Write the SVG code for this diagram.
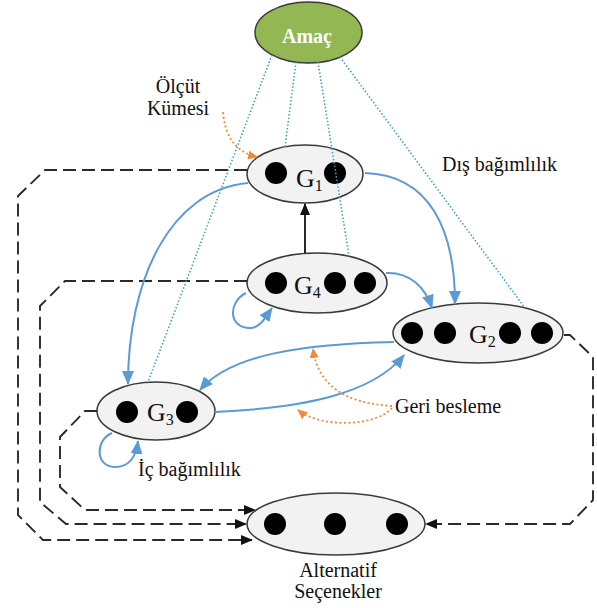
<svg xmlns="http://www.w3.org/2000/svg" width="597" height="608" viewBox="0 0 597 608">
  <style>
    .node { fill: #f2f2f2; stroke: #3a3a3a; stroke-width: 1.5; }
    .dot { fill: #000; }
    .lbl { font-family: 'Liberation Serif', serif; font-size: 20px; fill: #111; }
    .g { font-family: 'Liberation Serif', serif; font-size: 26px; fill: #111; }
    .sub { font-size: 16px; }
    .dash { fill: none; stroke: #2a2a2a; stroke-width: 1.9; stroke-dasharray: 13 6; }
    .blue { fill: none; stroke: #5b9bd5; stroke-width: 2; }
    .teal { fill: none; stroke: #3fa3c0; stroke-width: 1.6; stroke-dasharray: 1.5 2; }
    .orange { fill: none; stroke: #f08a3a; stroke-width: 1.8; stroke-dasharray: 2 2.5; }
  </style>
  <defs>
    <marker id="mBlack" markerUnits="userSpaceOnUse" markerWidth="12" markerHeight="10" refX="11" refY="5" orient="auto">
      <path d="M0,0 L12,5 L0,10 z" fill="#111"/>
    </marker>
    <marker id="mBlue" markerUnits="userSpaceOnUse" markerWidth="14" markerHeight="12" refX="13" refY="6" orient="auto">
      <path d="M0,0 L14,6 L0,12 z" fill="#5b9bd5"/>
    </marker>
    <marker id="mOrange" markerUnits="userSpaceOnUse" markerWidth="10" markerHeight="9" refX="9" refY="4.5" orient="auto">
      <path d="M0,0 L10,4.5 L0,9 z" fill="#f08a3a"/>
    </marker>
  </defs>

  <g id="amac">
    <ellipse cx="308.5" cy="32.5" rx="53.5" ry="30.5" fill="#93b853" stroke="#3a3a3a" stroke-width="1.5"/>
    <text x="307" y="43" text-anchor="middle" font-family="'Liberation Serif', serif" font-size="20" font-weight="bold" fill="#fff">Amaç</text>
  </g>

  <g id="G1">
    <ellipse class="node" cx="305" cy="174" rx="58" ry="29"/>
    <circle class="dot" cx="276" cy="173" r="11"/>
    <circle class="dot" cx="335" cy="173" r="11"/>
    <text class="g" x="296" y="187">G<tspan class="sub" dy="4">1</tspan></text>
  </g>

  <g id="G4">
    <ellipse class="node" cx="317" cy="283" rx="70" ry="30"/>
    <circle class="dot" cx="276" cy="283" r="11"/>
    <circle class="dot" cx="335" cy="283" r="11"/>
    <circle class="dot" cx="365" cy="283" r="11"/>
    <text class="g" x="294" y="294">G<tspan class="sub" dy="4">4</tspan></text>
  </g>

  <g id="G2">
    <ellipse class="node" cx="478" cy="333" rx="85" ry="30"/>
    <circle class="dot" cx="412" cy="333" r="11"/>
    <circle class="dot" cx="445" cy="333" r="11"/>
    <circle class="dot" cx="510" cy="333" r="11"/>
    <circle class="dot" cx="542" cy="333" r="11"/>
    <text class="g" x="469" y="343">G<tspan class="sub" dy="4">2</tspan></text>
  </g>

  <g id="G3">
    <ellipse class="node" cx="156" cy="411" rx="59" ry="29"/>
    <circle class="dot" cx="127" cy="412" r="11"/>
    <circle class="dot" cx="187" cy="412" r="11"/>
    <text class="g" x="147" y="421">G<tspan class="sub" dy="4">3</tspan></text>
  </g>

  <g id="alternatif">
    <ellipse class="node" cx="336" cy="524" rx="89" ry="31"/>
    <circle class="dot" cx="275" cy="524" r="11"/>
    <circle class="dot" cx="335" cy="524" r="11"/>
    <circle class="dot" cx="397" cy="524" r="11"/>
    <text class="lbl" x="338" y="577" text-anchor="middle">Alternatif</text>
    <text class="lbl" x="338" y="598" text-anchor="middle">Seçenekler</text>
  </g>

  <g id="labels">
    <text class="lbl" x="178" y="93" text-anchor="middle">Ölçüt</text>
    <text class="lbl" x="178" y="115" text-anchor="middle">Kümesi</text>
    <text class="lbl" x="442" y="171">Dış bağımlılık</text>
    <text class="lbl" x="395" y="413">Geri besleme</text>
    <text class="lbl" x="138" y="476">İç bağımlılık</text>
  </g>

  <g id="connectors">
    <path class="dash" d="M247,170 L45,170 L18,196 L18,515 L43,540 L252,540" marker-end="url(#mBlack)"/>
    <path class="dash" d="M247,281 L65,281 L40,306 L40,502 L66,524 L246,524" marker-end="url(#mBlack)"/>
    <path class="dash" d="M97,411 L85,411 L60,437 L60,487 L85,510 L255,510" marker-end="url(#mBlack)"/>
    <path class="dash" d="M564,335 L570,335 L593,357 L593,500 L570,524 L426,524" marker-end="url(#mBlack)"/>

    <path d="M305,253 L305,204" fill="none" stroke="#111" stroke-width="1.8" marker-end="url(#mBlack)"/>

    <path class="blue" d="M248,183 C170,190 128,280 128,384" marker-end="url(#mBlue)"/>
    <path class="blue" d="M365,173 C430,175 455,230 455,304" marker-end="url(#mBlue)"/>
    <path class="blue" d="M386,273 C410,272 425,287 432,308" marker-end="url(#mBlue)"/>
    <path class="blue" d="M246,293 C228,302 228,328 250,328 C260,328 265,318 272,308" marker-end="url(#mBlue)"/>
    <path class="blue" d="M112,433 C95,440 95,467 115,467 C128,467 136,458 138,441" marker-end="url(#mBlue)"/>
    <path class="blue" d="M394,342 C300,344 230,355 200,390" marker-end="url(#mBlue)"/>
    <path class="blue" d="M215,412 C300,408 372,395 404,355" marker-end="url(#mBlue)"/>

    <path class="teal" d="M272,55 L148,382"/>
    <path class="teal" d="M296,62 L285,147"/>
    <path class="teal" d="M318,62 L349,256"/>
    <path class="teal" d="M340,57 L525,308"/>

    <path class="orange" d="M223,112 Q226,150 257,157" marker-end="url(#mOrange)"/>
    <path class="orange" d="M392,406 Q320,402 313,349" marker-end="url(#mOrange)"/>
    <path class="orange" d="M392,408 C375,427 320,428 298,410" marker-end="url(#mOrange)"/>
  </g>
</svg>
